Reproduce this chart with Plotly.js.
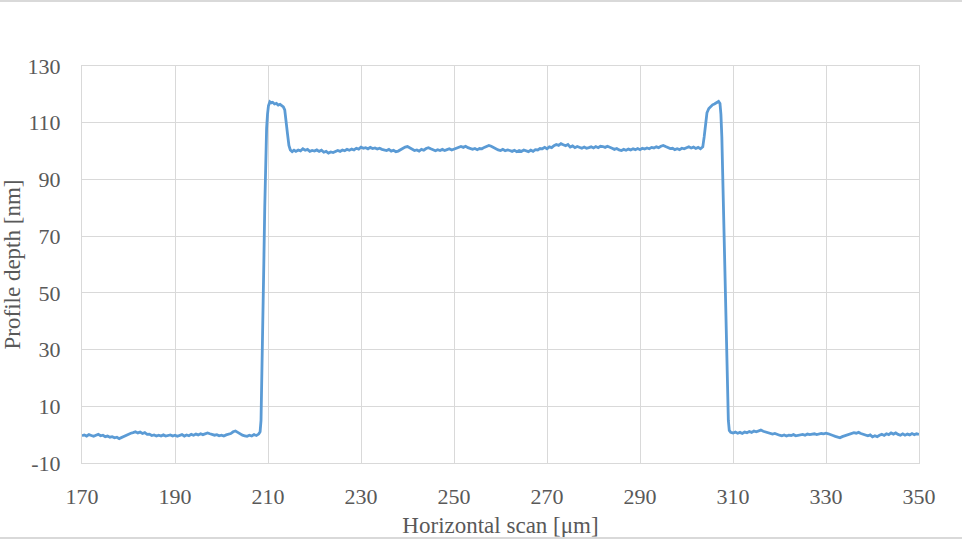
<!DOCTYPE html>
<html>
<head>
<meta charset="utf-8">
<script src="https://cdn.plot.ly/plotly-3.0.1.min.js"></script>
<style>
html,body{margin:0;padding:0;background:#fff;}
#wrap{position:relative;width:962px;height:539px;}
#chart{width:962px;height:539px;}
.bl{position:absolute;left:0;width:962px;height:2px;background:#d9d9d9;}
</style>
</head>
<body>
<div id="wrap">
<div id="chart"></div>
<div class="bl" style="top:0"></div>
<div class="bl" style="top:537px"></div>
</div>
<script>
// Horizontal scan position [µm]
const scanX = [
170,170.5,171,171.5,172,172.5,173,173.5,174,174.5,175,175.5,176,176.5,177,177.5,178,178.5,179,179.5,
180,180.5,181,181.5,182,182.5,183,183.5,184,184.5,185,185.5,186,186.5,187,187.5,188,188.5,189,189.5,
190,190.5,191,191.5,192,192.5,193,193.5,194,194.5,195,195.5,196,196.5,197,197.5,198,198.5,199,199.5,
200,200.5,201,201.5,202,202.5,203,203.5,204,204.5,205,205.5,206,206.5,207,207.5,208,208.3,
208.5,208.7,208.9,209.1,209.3,209.5,209.7,209.9,210.1,210.4,210.7,211,211.4,211.8,212.2,212.6,213,213.3,213.6,213.9,214.2,214.5,214.8,
215.2,215.6,216,216.5,217,217.5,218,218.5,219,219.5,220,220.5,221,221.5,222,222.5,223,223.5,224,224.5,
225,225.5,226,226.5,227,227.5,228,228.5,229,229.5,230,230.5,231,231.5,232,232.5,233,233.5,234,234.5,
235,235.5,236,236.5,237,237.5,238,238.5,239,239.5,240,240.5,241,241.5,242,242.5,243,243.5,244,244.5,
245,245.5,246,246.5,247,247.5,248,248.5,249,249.5,250,250.5,251,251.5,252,252.5,253,253.5,254,254.5,
255,255.5,256,256.5,257,257.5,258,258.5,259,259.5,260,260.5,261,261.5,262,262.5,263,263.5,264,264.5,
265,265.5,266,266.5,267,267.5,268,268.5,269,269.5,270,270.5,271,271.5,272,272.5,273,273.5,274,274.5,
275,275.5,276,276.5,277,277.5,278,278.5,279,279.5,280,280.5,281,281.5,282,282.5,283,283.5,284,284.5,
285,285.5,286,286.5,287,287.5,288,288.5,289,289.5,290,290.5,291,291.5,292,292.5,293,293.5,294,294.5,
295,295.5,296,296.5,297,297.5,298,298.5,299,299.5,300,300.5,301,301.5,302,302.5,303,303.5,
303.8,304.1,304.4,304.8,305.2,305.6,306,306.3,306.6,306.9,307.2,307.4,307.6,307.8,308,308.2,308.4,308.6,308.8,309,309.2,309.5,
310,310.5,311,311.5,312,312.5,313,313.5,314,314.5,315,315.5,316,316.5,317,317.5,318,318.5,319,319.5,
320,320.5,321,321.5,322,322.5,323,323.5,324,324.5,325,325.5,326,326.5,327,327.5,328,328.5,329,329.5,
330,330.5,331,331.5,332,332.5,333,333.5,334,334.5,335,335.5,336,336.5,337,337.5,338,338.5,339,339.5,
340,340.5,341,341.5,342,342.5,343,343.5,344,344.5,345,345.5,346,346.5,347,347.5,348,348.5,349,349.5,350
];
// Profile depth [nm]
const depth = [
-0.4,-0.1,-0.5,0.0,-0.3,-0.6,-0.2,0.1,-0.4,-0.2,-0.7,-0.5,-0.9,-0.7,-1.1,-0.9,-1.4,-1.0,-0.6,-0.3,
0.2,0.5,0.7,1.0,0.6,0.9,0.4,0.7,0.1,0.2,-0.3,-0.1,-0.5,-0.2,-0.5,-0.1,-0.5,-0.2,-0.1,-0.5,
-0.2,-0.6,-0.3,0.0,-0.5,-0.1,-0.4,0.1,-0.2,0.2,-0.1,0.3,0.0,0.4,0.6,0.3,0.1,-0.2,0.0,-0.4,
-0.2,-0.5,-0.1,0.1,0.4,1.0,1.3,0.8,0.2,-0.2,-0.4,-0.6,-0.2,-0.5,0.0,-0.3,0.2,1.0,
5,20,40,60,80,98,108,113,116,117.4,117.0,117.2,116.6,116.8,116.2,116.5,116.0,115.6,114.5,111,106,102,100.4,
99.8,100.3,99.9,100.4,100.1,100.8,100.3,100.6,99.9,100.2,100.0,100.4,99.9,100.3,99.6,99.9,99.3,99.7,99.5,100.0,
100.2,99.9,100.4,100.1,100.6,100.3,100.7,100.4,101.0,100.7,101.4,101.0,101.2,100.8,101.3,100.9,101.1,100.7,101.0,100.6,
100.5,100.2,100.6,100.0,100.3,99.8,100.0,100.5,100.9,101.4,101.6,101.1,100.7,100.2,100.4,100.0,100.6,100.3,100.9,101.2,
100.8,100.4,100.1,100.5,100.2,100.6,100.2,100.5,100.8,100.4,100.7,100.9,101.2,101.6,101.3,101.7,101.2,100.9,100.6,100.9,
100.5,100.9,100.8,101.3,101.6,102.0,101.7,101.2,100.8,100.4,100.2,100.6,100.1,100.4,100.2,99.9,100.3,99.8,100.2,99.9,
100.4,100.0,99.8,100.3,99.9,100.5,100.4,100.9,100.8,101.3,100.8,101.5,101.2,101.9,102.3,102.0,102.6,102.2,101.9,102.3,
101.4,101.8,101.2,101.6,101.3,101.0,101.4,101.0,101.2,101.5,101.1,101.6,101.2,101.7,101.6,101.3,101.7,101.2,101.0,100.6,
100.9,100.4,100.2,100.6,100.3,100.7,100.4,100.8,100.5,100.9,100.5,101.0,100.7,101.1,100.8,101.3,101.1,101.5,101.2,101.7,
102.0,101.6,101.3,100.9,101.0,100.5,100.8,100.5,101.0,100.8,101.2,101.5,101.1,101.4,100.9,101.3,100.8,101.5,
105,110,113.5,115,115.8,116.3,116.6,117.0,117.2,117.5,116.8,113,105,90,75,60,45,30,15,5,1.5,0.8,
0.6,0.9,0.5,0.8,0.4,0.9,0.7,1.1,0.8,1.3,1.0,1.4,1.6,1.2,0.9,0.6,0.5,0.2,0.4,0.0,
-0.2,-0.4,-0.1,-0.5,-0.2,-0.3,0.0,-0.4,-0.2,-0.1,0.1,-0.2,0.2,0.0,0.1,0.3,0.0,0.2,0.4,0.3,
0.5,0.3,0.1,-0.3,-0.6,-0.9,-1.1,-0.7,-0.4,0.0,0.1,0.4,0.7,0.5,0.8,0.4,0.2,-0.2,-0.4,-0.1,
-0.8,-0.4,-0.7,-0.2,0.1,-0.3,0.3,0.0,0.6,0.2,0.6,0.1,-0.2,0.3,-0.2,0.2,-0.1,0.4,0.0,0.3,0.1
];
// Axis ticks
const xTickVals = [170, 190, 210, 230, 250, 270, 290, 310, 330, 350];
const xTickText = ['170', '190', '210', '230', '250', '270', '290', '310', '330', '350'];
const yTickVals = [-10, 10, 30, 50, 70, 90, 110, 130];
const yTickText = ['-10', '10', '30', '50', '70', '90', '110', '130'];

const fontFam = '"Liberation Serif", "Times New Roman", serif';
const grey = '#595959';
const trace = {
  x: scanX, y: depth, type: 'scatter', mode: 'lines',
  line: {color: '#5B9BD5', width: 2.8},
  hoverinfo: 'skip'
};
const layout = {
  width: 962, height: 539,
  margin: {l: 82, r: 43, t: 66, b: 76, pad: 0},
  paper_bgcolor: '#ffffff', plot_bgcolor: '#ffffff',
  showlegend: false,
  font: {family: fontFam, color: grey, size: 22},
  xaxis: {
    range: [170, 350], tickmode: 'array', tickvals: xTickVals, ticktext: xTickText,
    showgrid: true, gridcolor: '#d9d9d9', gridwidth: 1,
    showline: true, linecolor: '#d9d9d9', linewidth: 1, mirror: true,
    zeroline: false, ticks: 'outside', ticklen: 14, tickcolor: 'rgba(0,0,0,0)',
    tickfont: {family: fontFam, size: 22, color: grey},
    title: {text: 'Horizontal scan [μm]', font: {family: fontFam, size: 23, color: grey}, standoff: 8}
  },
  yaxis: {
    range: [-10, 130], tickmode: 'array', tickvals: yTickVals, ticktext: yTickText,
    showgrid: true, gridcolor: '#d9d9d9', gridwidth: 1,
    showline: true, linecolor: '#d9d9d9', linewidth: 1, mirror: true,
    zeroline: false, ticks: 'outside', ticklen: 16, tickcolor: 'rgba(0,0,0,0)',
    tickfont: {family: fontFam, size: 22, color: grey},
    title: {text: 'Profile depth [nm]', font: {family: fontFam, size: 23, color: grey}, standoff: 2}
  }
};
Plotly.newPlot('chart', [trace], layout, {staticPlot: true, displayModeBar: false});
</script>
</body>
</html>
